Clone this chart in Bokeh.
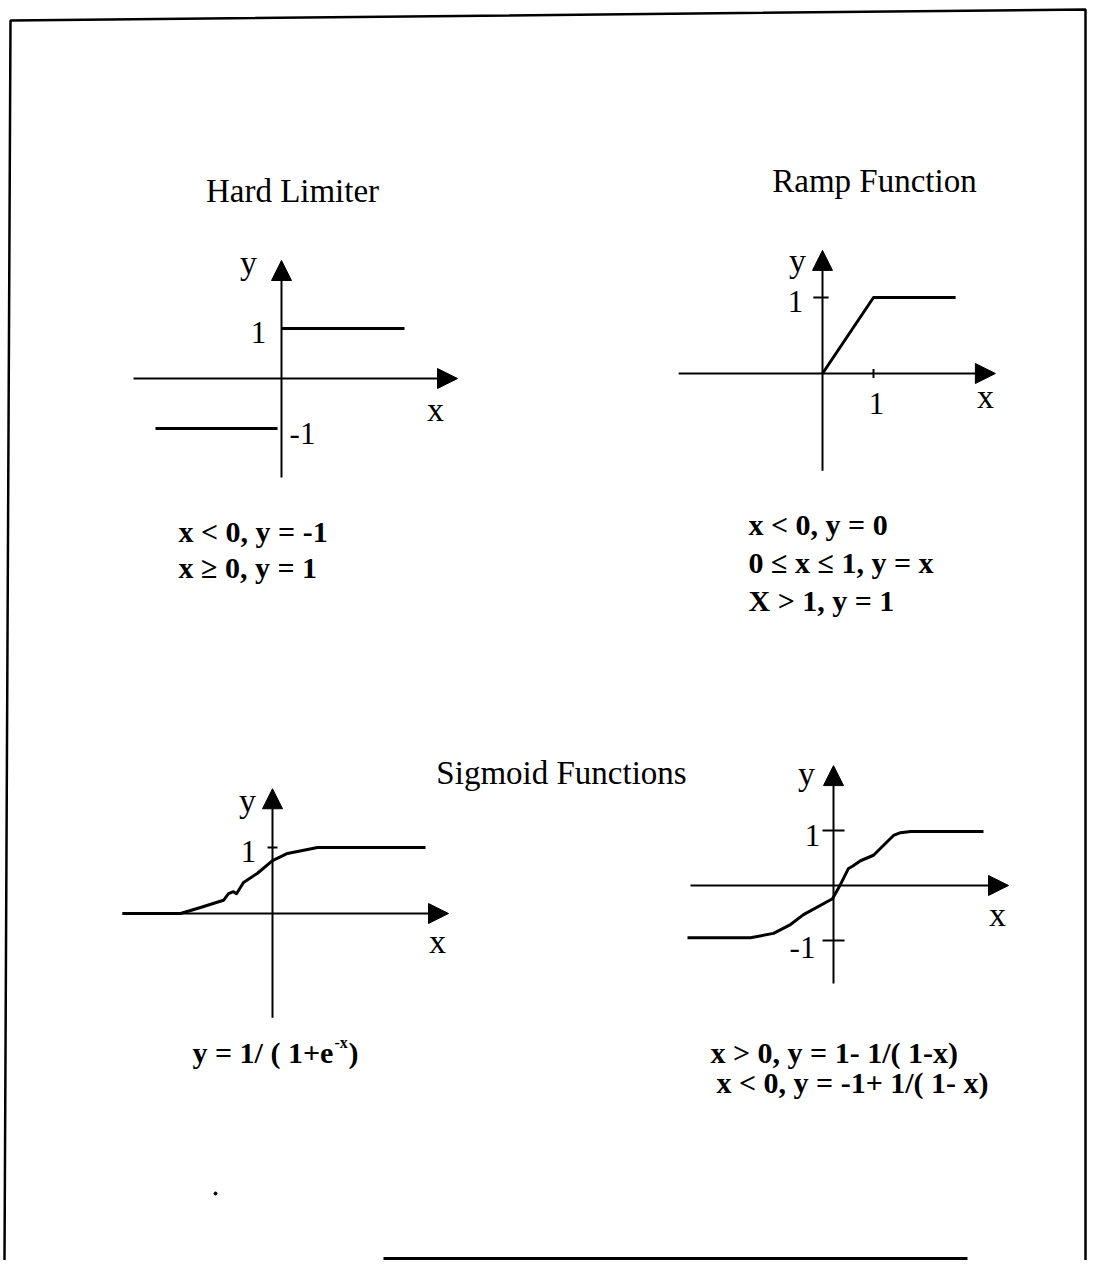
from bokeh.plotting import figure
from bokeh.models import Range1d, Arrow, NormalHead
from bokeh.core.properties import value
from bokeh.embed import file_html
from bokeh.resources import INLINE

# ---------------- data (function units) ----------------
hard_neg_x = [-2.52, -0.08]
hard_neg_y = [-1.0, -1.0]
hard_pos_x = [0.0, 2.46]
hard_pos_y = [1.0, 1.0]

ramp_x = [0.0, 1.0, 2.61]
ramp_y = [0.0, 1.0, 1.0]

sig_x = [-3.0, -1.84, -1.44, -0.98, -0.88, -0.78, -0.72, -0.58, -0.30, 0.0, 0.30, 0.90, 3.06]
sig_y = [0.0, 0.0, 0.09, 0.20, 0.30, 0.33, 0.30, 0.47, 0.61, 0.80, 0.91, 1.0, 1.0]

sym_x = [-2.92, -1.66, -1.20, -0.86, -0.60, -0.02, 0.14, 0.30, 0.38, 0.54, 0.80, 1.20, 1.34, 1.54, 3.0]
sym_y = [-0.95, -0.95, -0.87, -0.71, -0.53, -0.24, 0.02, 0.31, 0.35, 0.45, 0.55, 0.91, 0.96, 0.98, 0.98]

titles = ["Hard Limiter", "Ramp Function", "Sigmoid Functions"]
hard_rules = ["x < 0, y = -1", "x \u2265 0, y = 1"]
ramp_rules = ["x < 0, y = 0", "0 \u2264 x \u2264 1, y = x", "X > 1, y = 1"]
sym_rules = ["x > 0, y = 1- 1/( 1-x)", "x < 0, y = -1+ 1/( 1- x)"]

# ---------------- layout ----------------
W, H = 1087, 1260
OFF = 0
SERIF = value("Liberation Serif")

p = figure(width=W, height=H, output_backend="svg", toolbar_location=None,
           x_range=Range1d(OFF, OFF + W), y_range=Range1d(OFF + H, OFF),
           min_border=0, outline_line_color=None)
p.axis.visible = False
p.grid.visible = False
p.background_fill_color = "white"
p.border_fill_color = "white"

# panel placement: origin on page (px), px per unit, axis extents (units)
panels = {
    "hard": dict(o=(281, 378), s=(50, 50), xa=(-2.96, 3.52), ya=(-1.98, 2.36)),
    "ramp": dict(o=(822, 373), s=(51, 76), xa=(-2.82, 3.39), ya=(-1.28, 1.62)),
    "sig":  dict(o=(272, 913), s=(50, 66), xa=(-3.0, 3.52), ya=(-1.58, 1.89)),
    "sym":  dict(o=(833, 885), s=(50, 55), xa=(-2.86, 3.5), ya=(-1.78, 2.18)),
}
for name, d in panels.items():
    ox, oy = d["o"]
    sx, sy = d["s"]
    p.extra_x_ranges[name + "x"] = Range1d((OFF - ox) / sx, (OFF + W - ox) / sx)
    p.extra_y_ranges[name + "y"] = Range1d((oy - (OFF + H)) / sy, (oy - OFF) / sy)
    kw = dict(x_range_name=name + "x", y_range_name=name + "y")
    x0, x1 = d["xa"]
    y0, y1 = d["ya"]
    p.add_layout(Arrow(x_start=x0, y_start=0, x_end=x1, y_end=0, line_width=2,
                       end=NormalHead(size=20, fill_color="black", line_color="black", line_width=1), **kw))
    p.add_layout(Arrow(x_start=0, y_start=y0, x_end=0, y_end=y1, line_width=2,
                       end=NormalHead(size=20, fill_color="black", line_color="black", line_width=1), **kw))


def kw(name):
    return dict(x_range_name=name + "x", y_range_name=name + "y")


LW = 3
p.line(hard_neg_x, hard_neg_y, line_width=LW, color="black", **kw("hard"))
p.line(hard_pos_x, hard_pos_y, line_width=LW, color="black", **kw("hard"))
p.line(ramp_x, ramp_y, line_width=LW, color="black", line_join="round", **kw("ramp"))
p.line(sig_x, sig_y, line_width=LW, color="black", line_join="round", **kw("sig"))
p.line(sym_x, sym_y, line_width=LW, color="black", line_join="round", **kw("sym"))

# small ticks
p.segment(x0=[-0.18], y0=[1], x1=[0.12], y1=[1], line_width=2, color="black", **kw("ramp"))
p.segment(x0=[1], y0=[-0.06], x1=[1], y1=[0.06], line_width=2, color="black", **kw("ramp"))
p.segment(x0=[-0.1], y0=[1], x1=[0.1], y1=[1], line_width=2, color="black", **kw("sig"))
p.segment(x0=[-0.22, -0.22], y0=[1, -1], x1=[0.22, 0.22], y1=[1, -1], line_width=2, color="black", **kw("sym"))


def texts(xs, ys, ts, size, style="normal", align="center"):
    p.text(x=xs, y=ys, text=ts, text_font=SERIF, text_font_size=size,
           text_font_style=style, text_align=align, text_baseline="middle",
           text_color="black")


# titles
texts([292, 874, 561], [190, 180, 772], titles, "33px")
# axis names
texts([248, 797, 247, 806], [262, 260, 800, 773], ["y", "y", "y", "y"], "34px")
texts([435, 985, 437, 997], [409, 396, 941, 914], ["x", "x", "x", "x"], "34px")
# tick labels
texts([258, 302, 795, 876, 248, 812, 802], [332, 433, 301, 403, 851, 835, 947],
      ["1", "-1", "1", "1", "1", "1", "-1"], "31px")
# formulas
texts([178, 178], [531, 567], hard_rules, "30px", "bold", "left")
texts([748, 748, 748], [524, 562, 600], ramp_rules, "30px", "bold", "left")
texts([710, 716], [1052, 1082], sym_rules, "30px", "bold", "left")
texts([192], [1052], ["y = 1/ ( 1+e"], "30px", "bold", "left")
texts([334], [1042], ["-x"], "16px", "bold", "left")
texts([348], [1052], [")"], "30px", "bold", "left")

# frame of the scanned page
p.line([4, 10, 1085, 1085], [1260, 20, 9, 1260], line_width=2.5, color="black")
p.line([383, 967], [1258, 1258], line_width=3, color="black")
p.scatter([215], [1193], size=3, color="black")

open("out.html", "w").write(file_html(p, INLINE))
